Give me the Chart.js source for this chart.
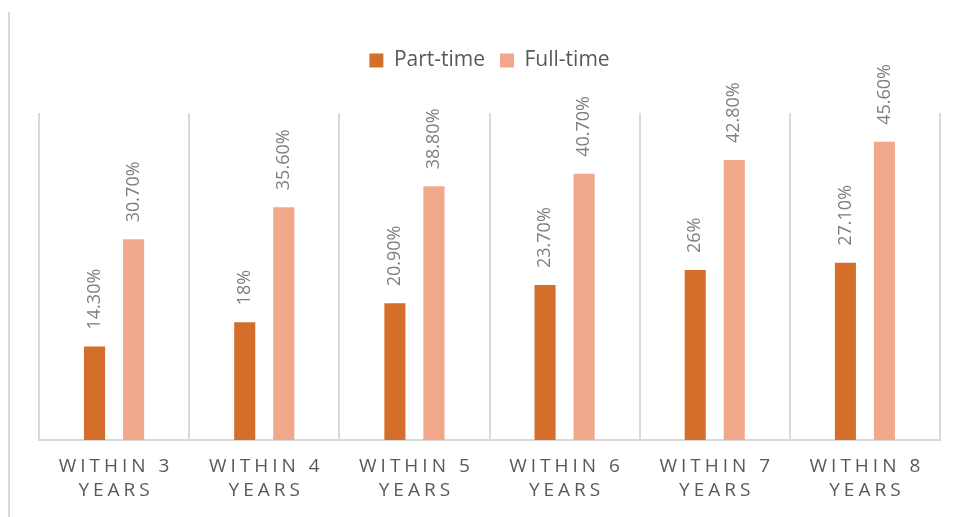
<!DOCTYPE html>
<html>
<head>
<meta charset="utf-8">
<script src="https://cdn.jsdelivr.net/npm/chart.js@4/dist/chart.umd.min.js"></script>
<style>
  html, body { margin: 0; padding: 0; background: #fff; }
  #wrap { width: 956px; height: 517px; position: relative; }
</style>
</head>
<body>
<div id="wrap"><canvas id="completionChart"></canvas></div>
<script>
// ── DATA ────────────────────────────────────────────────────────────────
const categories = [
    ['WITHIN 3', 'YEARS'],
    ['WITHIN 4', 'YEARS'],
    ['WITHIN 5', 'YEARS'],
    ['WITHIN 6', 'YEARS'],
    ['WITHIN 7', 'YEARS'],
    ['WITHIN 8', 'YEARS']
];
const partTime = [14.3, 18, 20.9, 23.7, 26, 27.1];
const fullTime = [30.7, 35.6, 38.8, 40.7, 42.8, 45.6];

const FONT = "'Open Sans', sans-serif";
const GRID = '#d9d9d9';

function pct(v) {
    return Number.isInteger(v) ? v + '%' : v.toFixed(2) + '%';
}

// extra room between the legend and the plot
const legendGap = {
    id: 'legendGap',
    beforeInit(chart) {
        const fit = chart.legend.fit;
        chart.legend.fit = function () {
            fit.call(this);
            this.height += 32;
        };
    }
};

// rotated value labels sitting above each bar
const barLabels = {
    id: 'barLabels',
    afterDatasetsDraw(chart) {
        const ctx = chart.ctx;
        ctx.save();
        ctx.fillStyle = '#7f7f7f';
        ctx.font = '18px ' + FONT;
        ctx.textAlign = 'left';
        ctx.textBaseline = 'middle';
        chart.data.datasets.forEach((ds, di) => {
            chart.getDatasetMeta(di).data.forEach((bar, i) => {
                ctx.save();
                ctx.translate(bar.x, bar.y - 17);
                ctx.rotate(-Math.PI / 2);
                ctx.fillText(pct(ds.data[i]), 0, 0);
                ctx.restore();
            });
        });
        ctx.restore();
    }
};

// two-line, letter-spaced category labels + left frame edge
const categoryLabels = {
    id: 'categoryLabels',
    beforeDraw(chart) {
        const ctx = chart.ctx;
        ctx.save();
        ctx.strokeStyle = GRID;
        ctx.lineWidth = 2;
        ctx.beginPath();
        ctx.moveTo(9, 12);
        ctx.lineTo(9, 517);
        ctx.stroke();
        ctx.restore();
    },
    afterDraw(chart) {
        const ctx = chart.ctx;
        const x = chart.scales.x;
        const spacing = 4;
        ctx.save();
        ctx.fillStyle = '#595959';
        ctx.font = '19px ' + FONT;
        ctx.textAlign = 'center';
        ctx.textBaseline = 'middle';
        ctx.letterSpacing = spacing + 'px';
        categories.forEach((lines, i) => {
            const cx = x.getPixelForValue(i) + spacing / 2;
            lines.forEach((line, j) => {
                ctx.fillText(line, cx, 467 + j * 24);
            });
        });
        ctx.restore();
    }
};

new Chart(document.getElementById('completionChart').getContext('2d'), {
    type: 'bar',
    data: {
        labels: categories.map(c => c.join(' ')),
        datasets: [
            {
                label: 'Part-time',
                data: partTime,
                backgroundColor: '#d36e2b'
            },
            {
                label: 'Full-time',
                data: fullTime,
                backgroundColor: '#f1a88a'
            }
        ]
    },
    options: {
        responsive: true,
        maintainAspectRatio: false,
        animation: false,
        categoryPercentage: 0.52,
        barPercentage: 0.54,
        layout: {
            padding: { top: 35, left: 39, right: 16, bottom: 77 }
        },
        plugins: {
            legend: {
                position: 'top',
                labels: {
                    color: '#595959',
                    font: { family: FONT, size: 21 },
                    boxWidth: 14,
                    boxHeight: 14,
                    padding: 15
                }
            },
            tooltip: { enabled: false }
        },
        scales: {
            x: {
                offset: true,
                grid: {
                    offset: true,
                    color: GRID,
                    lineWidth: 2,
                    drawTicks: false
                },
                border: { color: GRID, width: 2 },
                ticks: { display: false }
            },
            y: {
                display: false,
                min: 0,
                max: 50
            }
        }
    },
    plugins: [legendGap, barLabels, categoryLabels]
});
</script>
</body>
</html>
